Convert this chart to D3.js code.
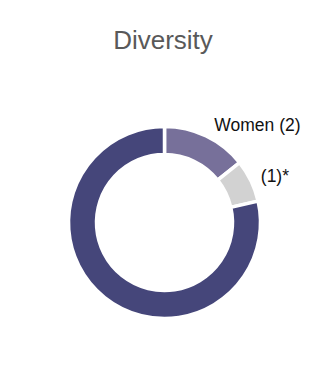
<!DOCTYPE html>
<html lang="en">
<head>
<meta charset="utf-8">
<title>Diversity</title>
<script src="https://cdn.jsdelivr.net/npm/d3@7/dist/d3.min.js"></script>
<style>
	html, body { margin: 0; padding: 0; background: #fff; }
	svg { font-family: "Liberation Sans", Arial, sans-serif; }
</style>
</head>
<body>
<div id="chart"></div>
<script>
	// slices, clockwise from 12 o'clock
	var categories = ["Women", "Other", "Men"];
	var counts = [2, 1, 11];
	var labels = ["Women (2)", "(1)*", ""];
	var colors = ["#77709a", "#d2d2d2", "#45467a"];

	var width = 330, height = 384;
	var cx = 164.5, cy = 222.5;
	var outerR = 96, innerR = 68;

	var svg = d3.select("#chart").append("svg")
		.attr("width", width)
		.attr("height", height);

	svg.append("text")
		.attr("x", 163)
		.attr("y", 49)
		.attr("text-anchor", "middle")
		.attr("fill", "#595959")
		.style("font-size", "26px")
		.text("Diversity");

	var data = categories.map(function(c, i) {
		return { name: c, value: counts[i], label: labels[i], color: colors[i] };
	});

	var pie = d3.pie()
		.sort(null)
		.value(function(d) { return d.value; });

	var arc = d3.arc()
		.innerRadius(innerR)
		.outerRadius(outerR);

	var labelArc = d3.arc()
		.innerRadius(108)
		.outerRadius(108);

	var g = svg.append("g")
		.attr("transform", "translate(" + cx + "," + cy + ")");

	var arcs = pie(data);

	g.selectAll("path")
		.data(arcs)
		.enter().append("path")
		.attr("d", arc)
		.attr("fill", function(d) { return d.data.color; })
		.attr("stroke", "#fff")
		.attr("stroke-width", 3.5);

	g.selectAll("text.lbl")
		.data(arcs.filter(function(d) { return d.data.label; }))
		.enter().append("text")
		.attr("class", "lbl")
		.attr("transform", function(d) { return "translate(" + labelArc.centroid(d) + ")"; })
		.attr("dx", function(d, i) { return i === 0 ? 3 : -1; })
		.attr("dy", "0.35em")
		.attr("text-anchor", "start")
		.attr("fill", "#111")
		.style("font-size", "17.5px")
		.text(function(d) { return d.data.label; });
</script>
</body>
</html>
